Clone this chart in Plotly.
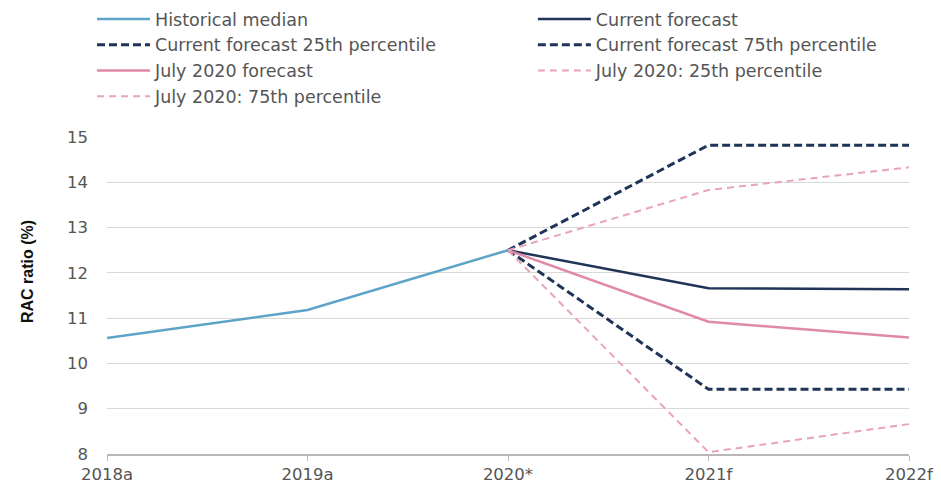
import plotly.graph_objects as go

categories = ["2018a", "2019a", "2020*", "2021f", "2022f"]
x_idx = [0, 1, 2, 3, 4]

historical = [10.56, 11.18, 12.5, None, None]
current = [None, None, 12.5, 11.66, 11.64]
current_p25 = [None, None, 12.5, 9.43, 9.43]
current_p75 = [None, None, 12.5, 14.82, 14.82]
july = [None, None, 12.5, 10.92, 10.57]
july_p25 = [None, None, 12.5, 8.04, 8.66]
july_p75 = [None, None, 12.5, 13.83, 14.33]

y_ticks = [8, 9, 10, 11, 12, 13, 14, 15]

NAVY = "#1f3457"
BLUE = "#5ea4c8"
PINK = "#e08aa6"
PINK_D = "#e9a3ba"

# name, values, colour, dash, width, legend column
series = [
    ("Historical median", historical, BLUE, "solid", 2.5, "legend"),
    ("Current forecast", current, NAVY, "solid", 2.5, "legend2"),
    ("Current forecast 25th percentile", current_p25, NAVY, "8px,4px", 3, "legend"),
    ("Current forecast 75th percentile", current_p75, NAVY, "8px,4px", 3, "legend2"),
    ("July 2020 forecast", july, PINK, "solid", 2.5, "legend"),
    ("July 2020: 25th percentile", july_p25, PINK_D, "7px,5px", 2, "legend2"),
    ("July 2020: 75th percentile", july_p75, PINK_D, "7px,5px", 2, "legend"),
]

fig = go.Figure()
for name, vals, col, dash, w, lg in series:
    fig.add_trace(go.Scatter(
        x=x_idx, y=vals, name=name, mode="lines",
        line=dict(color=col, dash=dash, width=w),
        connectgaps=False, legend=lg,
    ))

FONT = "DejaVu Sans, Verdana, sans-serif"
legend_common = dict(
    orientation="v", yanchor="top", xanchor="left",
    font=dict(size=17.5, color="#555555", family=FONT),
    itemwidth=53, tracegroupgap=0, bgcolor="rgba(0,0,0,0)",
)

fig.update_layout(
    width=941, height=484,
    margin=dict(l=107, r=32, t=137, b=30, autoexpand=False),
    paper_bgcolor="white", plot_bgcolor="white",
    font=dict(family=FONT, color="#555555", size=16),
    legend=dict(x=-0.0187, y=1.429, **legend_common),
    legend2=dict(x=0.531, y=1.429, **legend_common),
    showlegend=True,
)
fig.update_xaxes(
    range=[0, 4], tickvals=x_idx, ticktext=categories,
    showgrid=False, zeroline=False, automargin=False,
    showline=True, linecolor="#b8b8b8", linewidth=1.5,
    ticks="outside", ticklen=5, tickcolor="#b8b8b8",
    ticklabelstandoff=-1,
    tickfont=dict(size=16.5, color="#555555", family=FONT),
)
fig.update_yaxes(
    range=[8, 15], tickvals=y_ticks, automargin=False,
    showgrid=True, gridcolor="#d9d9d9", gridwidth=1.2,
    zeroline=False, showline=False,
    ticklabelstandoff=18,
    tickfont=dict(size=16.5, color="#555555", family=FONT),
)
fig.add_annotation(
    text="<b>RAC ratio (%)</b>", textangle=-90, showarrow=False,
    xref="paper", yref="paper", x=-80 / 802, y=182 / 317,
    xanchor="center", yanchor="middle",
    font=dict(family="Liberation Sans Narrow, Arial Narrow, Liberation Sans", size=16, color="#111111"),
)

fig.write_html("out.html")
